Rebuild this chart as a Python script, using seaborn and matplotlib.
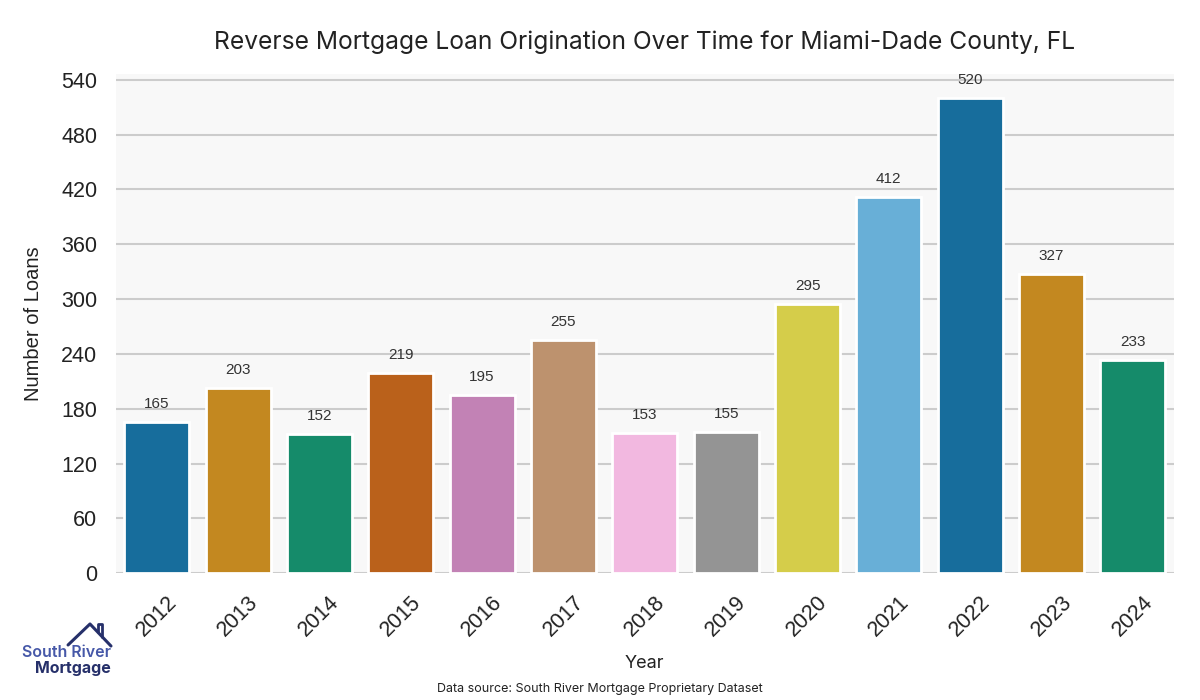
import matplotlib
matplotlib.use('Agg')
import matplotlib.pyplot as plt
import seaborn as sns
import pandas as pd

# data
years = ['2012', '2013', '2014', '2015', '2016', '2017', '2018',
         '2019', '2020', '2021', '2022', '2023', '2024']
loans = [165, 203, 152, 219, 195, 255, 153, 155, 295, 412, 520, 327, 233]
y_ticks = [0, 60, 120, 180, 240, 300, 360, 420, 480, 540]

df = pd.DataFrame({'Year': years, 'Loans': loans})

sns.set_theme(style='whitegrid')
plt.rcParams['font.family'] = ['Inter', 'DejaVu Sans']

fig = plt.figure(figsize=(12, 7), dpi=100)
ax = fig.add_axes([0.0967, 0.181, 0.8813, 0.713])
ax.set_facecolor('#f8f8f8')

sns.barplot(data=df, x='Year', y='Loans', hue='Year', palette='colorblind',
            legend=False, edgecolor='white', linewidth=2, ax=ax)

for c in ax.containers:
    ax.bar_label(c, fmt='%d', padding=8, fontsize=11, color='#333333',
                 family='Liberation Sans')

ax.set_ylim(0, max(loans) * 1.05)
ax.set_yticks(y_ticks)
ax.grid(axis='y', color='#cccccc', linewidth=1.5)
ax.grid(axis='x', visible=False)
for s in ax.spines.values():
    s.set_visible(False)

ax.tick_params(axis='x', rotation=45, labelsize=15.5, pad=7.5)
ax.tick_params(axis='y', labelsize=15.5, pad=7.5)
for lbl in ax.get_xticklabels() + ax.get_yticklabels():
    lbl.set_family('Liberation Sans')
    lbl.set_color('#222222')

ax.set_title('Reverse Mortgage Loan Origination Over Time for Miami-Dade County, FL',
             fontsize=17.7, color='#222222', pad=18)
ax.set_xlabel('Year', fontsize=13, color='#222222', labelpad=10)
ax.set_ylabel('Number of Loans', fontsize=14.5, color='#222222', labelpad=13,
              family='Liberation Sans')

fig.text(0.5, 0.011, 'Data source: South River Mortgage Proprietary Dataset',
         ha='center', fontsize=9, color='#222222')

# logo
fig.text(0.0925, 0.061, 'South River', ha='right', va='baseline', fontsize=11.5,
         weight='semibold', color='#4658a8')
fig.text(0.0925, 0.039, 'Mortgage', ha='right', va='baseline', fontsize=11.5,
         weight='bold', color='#26306a')
roof_x = [0.0567, 0.0750, 0.0925]
roof_y = [0.0786, 0.1086, 0.0771]
fig.add_artist(plt.Line2D(roof_x, roof_y, color='#26306a', linewidth=2.2,
                          transform=fig.transFigure))
fig.add_artist(plt.Line2D([0.0814, 0.0814, 0.0853, 0.0853],
                          [0.0971, 0.1086, 0.1086, 0.0900],
                          color='#26306a', linewidth=2.0,
                          transform=fig.transFigure))

plt.savefig('out.png', dpi=100)
plt.close()
